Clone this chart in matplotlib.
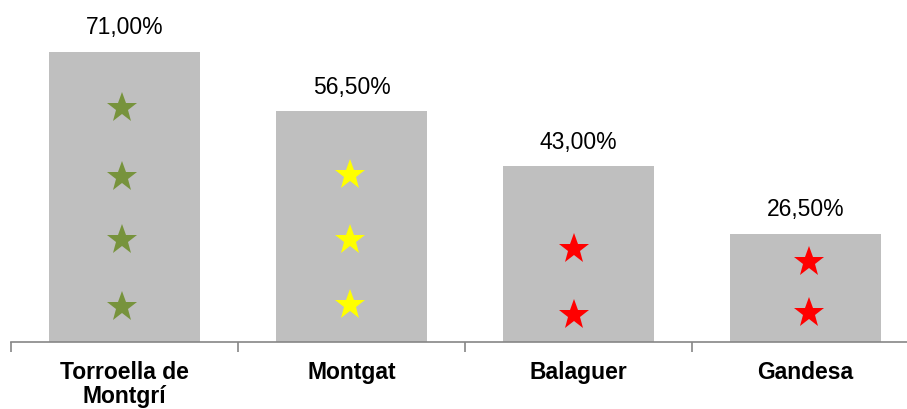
import matplotlib
matplotlib.use("Agg")
import matplotlib.pyplot as plt
import numpy as np

categories = ["Torroella de\nMontgrí", "Montgat", "Balaguer", "Gandesa"]
values = [71.0, 56.5, 43.0, 26.5]
value_labels = ["71,00%", "56,50%", "43,00%", "26,50%"]
star_colors = ["#77933C", "#FFFF00", "#FF0000", "#FF0000"]
star_levels = [
    [57.3, 40.4, 25.0, 8.6],
    [40.9, 25.0, 9.0],
    [22.8, 6.6],
    [19.6, 7.1],
]
star_dx = [-0.009, -0.007, -0.018, 0.016]

plt.rcParams['font.family'] = ['Liberation Sans', 'DejaVu Sans']

W, H = 907, 409
fig = plt.figure(figsize=(W / 100, H / 100), dpi=100)
ax_left, ax_right = 11, 919
ax_bottom_px = 342
ymax = 80
px_per_unit = 290 / 71.0
ax_h = ymax * px_per_unit
ax = fig.add_axes([ax_left / W, (H - ax_bottom_px) / H, (ax_right - ax_left) / W, ax_h / H])

x = np.arange(len(categories))
ax.bar(x, values, width=0.665, color="#BFBFBF", zorder=1)
for xi, dx, lv, c in zip(x, star_dx, star_levels, star_colors):
    ax.plot([xi + dx] * len(lv), lv, linestyle="none", marker="*", markersize=23,
            color=c, markeredgewidth=0, zorder=3)
for xi, v, lab in zip(x, values, value_labels):
    ax.text(xi, v + 5.9, lab, ha="center", va="center", fontsize=16.5,
            color="#000000", clip_on=False)

ax.set_xlim(-0.5, len(categories) - 0.5)
ax.set_ylim(0, ymax)
for s in ["top", "right", "left"]:
    ax.spines[s].set_visible(False)
ax.spines["bottom"].set_color("#868686")
ax.spines["bottom"].set_linewidth(1.2)
ax.set_yticks([])
ax.set_xticks(x)
ax.set_xticklabels(categories, fontsize=16.5, fontweight="bold", linespacing=1.02)
ax.tick_params(axis="x", which="major", length=0, pad=14)
ax.set_xticks(np.arange(-0.5, len(categories), 1.0), minor=True)
ax.tick_params(axis="x", which="minor", length=7, color="#868686", width=1.2)

fig.savefig("out.png", dpi=100)
